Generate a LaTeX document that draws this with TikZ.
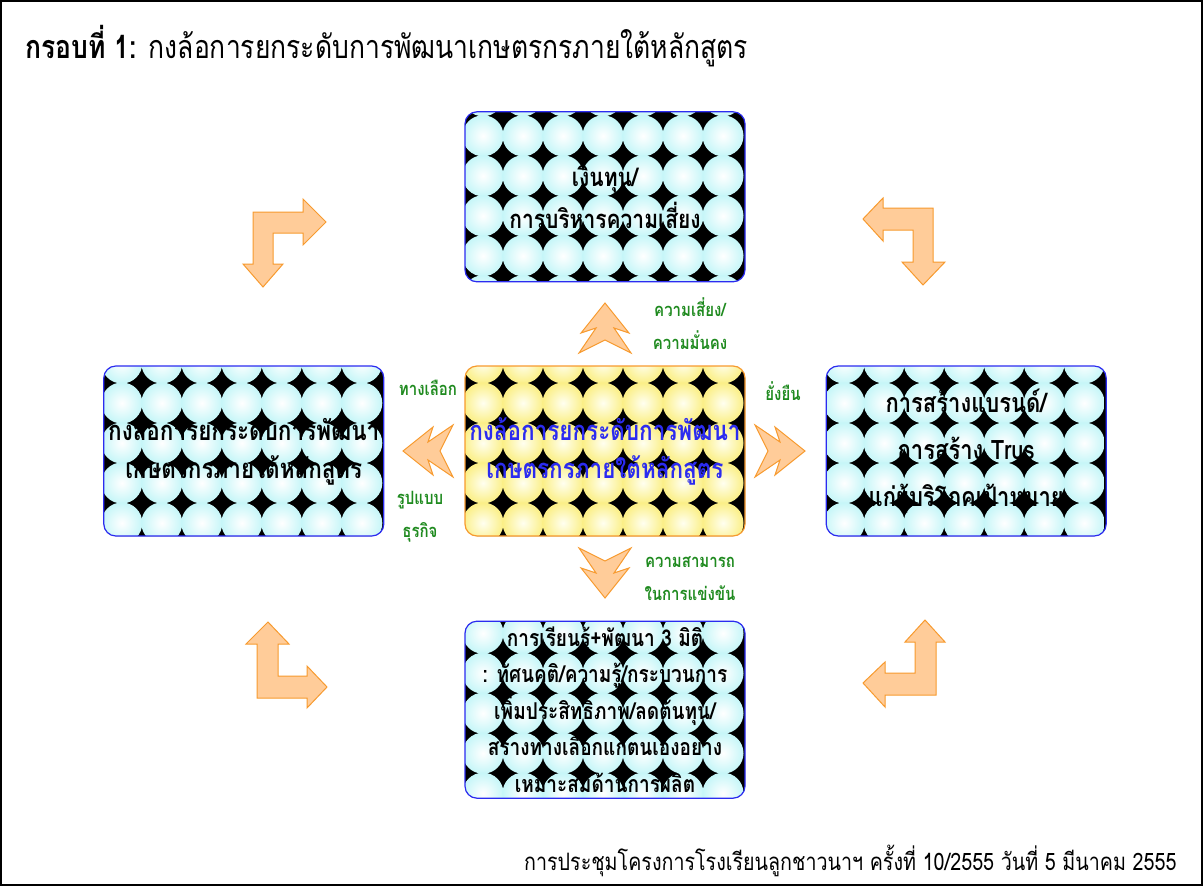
\documentclass[tikz,border=0pt]{standalone}
\usepackage{fontspec}
\setmainfont[Script=Thai, FakeStretch=0.82]{Loma}
\usetikzlibrary{positioning,calc}
\definecolor{wheelBlue}{HTML}{2B2BF0}
\definecolor{wheelOrange}{HTML}{F79A2E}
\definecolor{wheelPeach}{HTML}{FFCC99}
\definecolor{wheelGreen}{HTML}{1F8A1F}
\definecolor{ballCyan}{HTML}{C6F6F8}
\definecolor{ballYellow}{HTML}{FBEF86}
\definecolor{ballIvory}{HTML}{FFFFF0}
\tikzset{
    % Ball fillings
    ballBase/.style={shading=radial, inner color=white},
    cyanBall/.style={ballBase, outer color=ballCyan},
    yellowBall/.style={ballBase, inner color=ballIvory, outer color=ballYellow},
    ballPanel/.style 2 args={
        path picture={
            \fill[black] (path picture bounding box.south west) rectangle (path picture bounding box.north east);
            \foreach \col in {0,...,6}
                \foreach \row in {0,...,5}
                    \shade[#1] ($(path picture bounding box.north west)+(18+40*\col,#2+40*\row)$) circle (20.5);
        }
    },
    % Boxes and labels
    wheelBox/.style={
        rectangle,
        draw=#1,
        line width=1.2pt,
        rounded corners=12pt,
        minimum width=280pt,
        minimum height=170pt,
        align=center,
        font=\bfseries\fontsize{27.4}{38}\selectfont
    },
    flowLabel/.style={text=wheelGreen, align=center, font=\bfseries\fontsize{18.3}{33}\selectfont},
    % Arrows
    bendArrow/.style={fill=wheelPeach, draw=wheelOrange, line width=1pt, line join=miter},
    dblChevron/.pic={
        \path[bendArrow] (0,0) -- (-30,-24) -- (-25,-9) -- (-50,-26) -- (-37,0)
            -- (-50,26) -- (-25,9) -- (-30,24) -- cycle;
    }
}

\begin{document}
\begin{tikzpicture}[x=1pt, y=-1pt]
\useasboundingbox (0,0) rectangle (1203,886);
\draw[line width=2pt] (1,1) rectangle (1202,885);

\node[anchor=base west, font=\fontsize{32.3}{36}\selectfont] (title) at (22,58)
    {\textbf{กรอบที่ 1:} กงล้อการยกระดับการพัฒนาเกษตรกรภายใต้หลักสูตร};

% The wheel
\node[wheelBox=wheelOrange, ballPanel={yellowBall}{-3}, text=wheelBlue] (hub) at (605,451)
    {กงล้อการยกระดับการพัฒนา\\เกษตรกรภายใต้หลักสูตร};
\node[wheelBox=wheelBlue, ballPanel={cyanBall}{-16}, above=83pt of hub, font=\bfseries\fontsize{25.6}{42}\selectfont] (fund)
    {เงินทุน/\\การบริหารความเสี่ยง};
\node[wheelBox=wheelBlue, ballPanel={cyanBall}{-3}, left=80pt of hub] (model)
    {กงล้อการยกระดับการพัฒนา\\เกษตรกรภายใต้หลักสูตร};
\node[wheelBox=wheelBlue, ballPanel={cyanBall}{-3}, right=80pt of hub, font=\bfseries\fontsize{26.8}{47}\selectfont] (brand)
    {การสร้างแบรนด์/\\การสร้าง Trus\\แก่ผู้บริโภคเป้าหมาย};
\node[wheelBox=wheelBlue, ballPanel={cyanBall}{12}, minimum height=177pt, below=84pt of hub, font=\bfseries\fontsize{23.2}{36.5}\selectfont] (skill)
    {การเรียนรู้+พัฒนา 3 มิติ\\: ทัศนคติ/ความรู้/กระบวนการ\\เพิ่มประสิทธิภาพ/ลดต้นทุน/\\สร้างทางเลือกแก่ตนเองอย่าง\\เหมาะสมด้านการผลิต};

% Chevrons and their labels
\pic[rotate=90] at (605,303) {dblChevron};
\pic[rotate=-90] at (605,598) {dblChevron};
\pic[rotate=180] at (403,451) {dblChevron};
\pic at (805,451) {dblChevron};

\node[flowLabel] (riskLbl) at (690,324) {ความเสี่ยง/\\ความมั่นคง};
\node[flowLabel] (choiceLbl) at (428,388) {ทางเลือก};
\node[flowLabel] (bizLbl) at (420,517) {รูปแบบ\\ธุรกิจ};
\node[flowLabel] (sustainLbl) at (783,391) {ยั่งยืน};
\node[flowLabel] (competeLbl) at (690,579) {ความสามารถ\\ในการแข่งขัน};

% Corner arrows
\draw[bendArrow] (253,212) -- (303,212) -- (303,199) -- (326,222) -- (303,245) -- (303,233)
    -- (273,233) -- (273,264) -- (283,264) -- (263,287) -- (243,264) -- (253,264) -- cycle;
\draw[bendArrow] (863,219) -- (883,198) -- (883,208) -- (933,208) -- (933,262) -- (945,262)
    -- (923,285) -- (902,262) -- (913,262) -- (913,230) -- (883,230) -- (883,241) -- cycle;
\draw[bendArrow] (268,622) -- (289,644) -- (278,644) -- (278,676) -- (307,676) -- (307,666)
    -- (327,687) -- (307,708) -- (307,698) -- (257,698) -- (257,644) -- (246,644) -- cycle;
\draw[bendArrow] (925,620) -- (945,642) -- (936,642) -- (936,695) -- (885,695) -- (885,707)
    -- (863,683) -- (885,662) -- (885,673) -- (915,673) -- (915,642) -- (905,642) -- cycle;

\node[anchor=base east, font=\fontsize{24}{28}\selectfont] (footnote) at (1180,870)
    {การประชุมโครงการโรงเรียนลูกชาวนาฯ ครั้งที่ 10/2555 วันที่ 5 มีนาคม 2555};
\end{tikzpicture}
\end{document}
